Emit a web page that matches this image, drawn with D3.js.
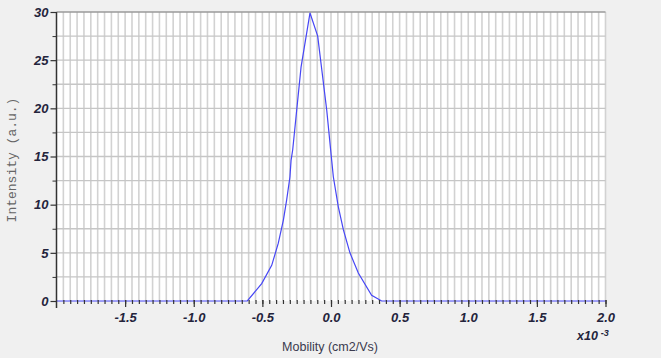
<!DOCTYPE html>
<html>
<head>
<meta charset="utf-8">
<script src="https://cdn.jsdelivr.net/npm/d3@7"></script>
<style>
  body { margin: 0; background: #f0f0f0; }
  #chart svg { display: block; }
</style>
</head>
<body>
<div id="chart"></div>
<script>
// mobility in units of 1e-3 cm2/Vs, intensity in a.u.
const mobility  = [-2.0, -0.61, -0.505, -0.432, -0.384, -0.347, -0.323, -0.299, -0.291, -0.279, -0.250, -0.218, -0.153, -0.097, -0.031, 0.005, 0.017, 0.053, 0.090, 0.138, 0.199, 0.296, 0.369, 2.0]
const intensity = [0, 0, 1.8, 3.7, 6.0, 8.4, 10.5, 12.9, 14.6, 15.7, 19.8, 24.3, 29.9, 27.5, 19.8, 14.6, 12.9, 9.8, 7.4, 5.0, 2.9, 0.6, 0, 0]
const yMajor = [0, 5, 10, 15, 20, 25, 30]
const yMinor = [2.5, 7.5, 12.5, 17.5, 22.5, 27.5]
const xMajor = [-1.5, -1.0, -0.5, 0.0, 0.5, 1.0, 1.5, 2.0]

const width = 661
const height = 358
const svg = d3.select('#chart').append('svg')
    .attr('width', width).attr('height', height)

svg.append('rect').attr('width', width).attr('height', height).attr('fill', '#f0f0f0')

const x = d3.scaleLinear().domain([-2, 2]).range([56.5, 605.5])
const y = d3.scaleLinear().domain([0, 30]).range([301, 12])

// plot background
svg.append('rect')
    .attr('x', x(-2)).attr('y', y(30))
    .attr('width', x(2) - x(-2)).attr('height', y(0) - y(30))
    .attr('fill', '#fff')

// vertical grid every 0.05
const xGrid = d3.range(1, 81).map(i => -2 + i * 0.05)
svg.append('g').selectAll('line')
    .data(xGrid)
    .join('line')
    .attr('x1', d => x(d)).attr('x2', d => x(d))
    .attr('y1', y(30)).attr('y2', y(0))
    .attr('stroke', '#d2d2d2')
    .attr('stroke-width', 1.6)

// horizontal grid every 2.5
svg.append('g').selectAll('line')
    .data(yMajor.concat(yMinor).filter(d => d > 0))
    .join('line')
    .attr('x1', x(-2)).attr('x2', x(2))
    .attr('y1', d => y(d)).attr('y2', d => y(d))
    .attr('stroke', d => d === 30 ? '#9a9a9a' : '#c6c6c6')
    .attr('stroke-width', d => d === 30 ? 1.5 : 1.4)

// data line
const line = d3.line().x(d => x(d[0])).y(d => y(d[1]))
svg.append('path')
    .datum(d3.zip(mobility, intensity))
    .attr('d', line)
    .attr('fill', 'none')
    .attr('stroke', '#4646f5')
    .attr('stroke-width', 1.2)

// x axis
const labelFont = '"Liberation Sans", Arial, sans-serif'
const xMinorTicks = d3.range(1, 81).map(i => -2 + i * 0.05)
const gxMinor = svg.append('g')
    .attr('transform', `translate(0,${y(0) - 1})`)
    .call(d3.axisBottom(x).tickValues(xMinorTicks).tickSize(4).tickFormat(''))
gxMinor.select('.domain').remove()
gxMinor.selectAll('line').attr('stroke', '#333').attr('stroke-width', 1.2)

const gx = svg.append('g')
    .attr('transform', `translate(0,${y(0) - 1})`)
    .call(d3.axisBottom(x).tickValues(xMajor).tickSize(7).tickPadding(6).tickFormat(d => d.toFixed(1)))
gx.select('.domain').remove()
gx.selectAll('line').attr('stroke', '#333').attr('stroke-width', 1.2)
gx.selectAll('text')
    .attr('font-family', labelFont)
    .attr('font-size', 13)
    .attr('font-weight', 'bold')
    .attr('font-style', 'italic')
    .attr('fill', '#24243c')

// y axis
const gyMinor = svg.append('g')
    .attr('transform', `translate(${x(-2)},0)`)
    .call(d3.axisLeft(y).tickValues(yMinor).tickSize(4).tickFormat(''))
gyMinor.select('.domain').remove()
gyMinor.selectAll('line').attr('stroke', '#333')

const gy = svg.append('g')
    .attr('transform', `translate(${x(-2)},0)`)
    .call(d3.axisLeft(y).tickValues(yMajor).tickSize(6).tickSizeOuter(0).tickPadding(2))
gy.select('.domain').remove()
gy.selectAll('line').attr('stroke', '#333').attr('stroke-width', 1.2)
gy.selectAll('text')
    .attr('font-family', labelFont)
    .attr('font-size', 13)
    .attr('font-weight', 'bold')
    .attr('font-style', 'italic')
    .attr('fill', '#24243c')

svg.append('line')
    .attr('x1', x(-2)).attr('x2', x(-2))
    .attr('y1', y(30)).attr('y2', y(0) + 7)
    .attr('stroke', '#333')
    .attr('stroke-width', 1.5)

// exponent
const expo = svg.append('text')
    .attr('x', 577).attr('y', 340)
    .attr('font-family', labelFont)
    .attr('font-size', 12.5)
    .attr('font-weight', 'bold')
    .attr('font-style', 'italic')
    .attr('fill', '#24243c')
expo.append('tspan').text('x10')
expo.append('tspan').attr('dx', 3).attr('dy', -4).attr('font-size', 9).text('-3')

// axis titles
svg.append('text')
    .attr('x', 330).attr('y', 351)
    .attr('text-anchor', 'middle')
    .attr('font-family', labelFont)
    .attr('font-size', 12.5)
    .attr('fill', '#3a3a4e')
    .text('Mobility (cm2/Vs)')

svg.append('text')
    .attr('transform', 'translate(16,160) rotate(-90)')
    .attr('text-anchor', 'middle')
    .attr('font-family', '"Liberation Mono", "DejaVu Sans Mono", monospace')
    .attr('font-size', 13)
    .attr('fill', '#666')
    .text('Intensity (a.u.)')
</script>
</body>
</html>
